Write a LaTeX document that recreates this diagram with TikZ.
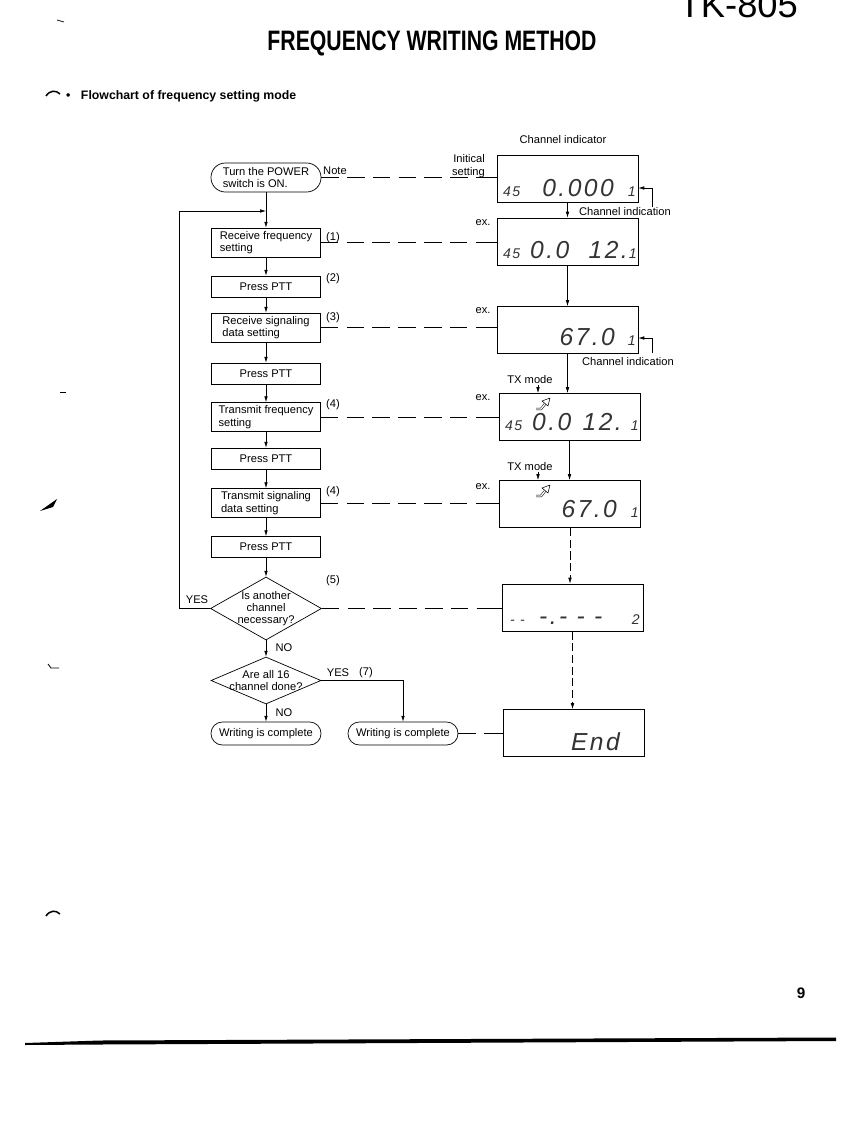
\documentclass[tikz,border=0pt]{standalone}
\usepackage{fontspec}
\usepackage{graphicx}
\setmainfont{Liberation Sans}
\newfontfamily\segfont{Liberation Sans}[LetterSpace=10]
\usetikzlibrary{shapes.geometric,arrows.meta,calc,positioning}

\tikzset{
  stepbox/.style={draw, line width=0.6pt, minimum width=3.27cm, minimum height=0.87cm, inner sep=0pt, align=left},
  pttbox/.style={stepbox, minimum height=0.63cm},
  term/.style={draw, line width=0.6pt, rounded corners=0.34cm, minimum width=3.3cm, minimum height=0.69cm, inner sep=0pt, align=left},
  decision/.style={draw, line width=0.6pt, diamond, inner sep=0pt},
  disp/.style={draw, line width=0.7pt, minimum width=4.23cm, minimum height=1.41cm, inner sep=0pt},
  flow/.style={line width=0.5pt, -{Latex[length=5pt,width=3pt]}},
  note/.style={line width=0.6pt, dash pattern=on 15pt off 7pt},
  seg/.style={font={\segfont\itshape\fontsize{21}{21}\selectfont}, text=black!80, inner sep=0pt},
  segs/.style={font={\segfont\itshape\fontsize{12}{12}\selectfont}, text=black!80, inner sep=0pt},
}

\begin{document}
\begin{tikzpicture}[x=0.03cm, y=-0.03cm, font=\fontsize{9.5}{10.5}\selectfont]
  \useasboundingbox (0,0) rectangle (866,1122);

  % page head
  \node[anchor=base east, font=\fontsize{31}{31}\selectfont] (model) at (802,18) {TK-805};
  \node[font=\bfseries\fontsize{24}{24}\selectfont] (title) at (432,43) {\scalebox{0.755}[1]{FREQUENCY WRITING METHOD}};
  \node[anchor=west, font=\bfseries\fontsize{10.5}{12}\selectfont] (head) at (62,96) {\textbullet\hspace{9pt}Flowchart of frequency setting mode};

  % flowchart
  \node[term, rounded corners=0.43cm, minimum height=0.87cm] (start) at (266,177.5) {Turn the POWER\\switch is ON.};
  \node[stepbox] (rxfreq) at (266,242.5) {Receive frequency\\setting};
  \node[pttbox] (ptt1) at (266,286.5) {Press PTT};
  \node[stepbox] (rxsig) at (266,327.5) {Receive signaling\\data setting};
  \node[pttbox] (ptt2) at (266,373.5) {Press PTT};
  \node[stepbox] (txfreq) at (266,417) {Transmit frequency\\setting};
  \node[pttbox] (ptt3) at (266,458.5) {Press PTT};
  \node[stepbox] (txsig) at (266,503) {Transmit signaling\\data setting};
  \node[pttbox] (ptt4) at (266,547) {Press PTT};
  \node[decision, minimum width=3.33cm, minimum height=1.89cm] (more) at (266,608.5) {};
  \node[align=center] (moretxt) at (more) {Is another\\channel\\necessary?};
  \node[decision, minimum width=3.3cm, minimum height=1.41cm] (all16) at (266,680.5) {};
  \node[align=center] (all16txt) at (all16) {Are all 16\\channel done?};
  \node[term] (endL) at (266,733.5) {Writing is complete};
  \node[term] (endR) at (403,733.5) {Writing is complete};

  \node at (333,238) {(1)};
  \node at (333,279) {(2)};
  \node at (333,318) {(3)};
  \node at (333,405) {(4)};
  \node at (333,492) {(4)};
  \node at (333,581) {(5)};
  \node at (335,171) {Note};
  \node at (197,600) {YES};
  \node at (284,648) {NO};
  \node at (284,713) {NO};
  \node at (338,673) {YES};
  \node at (366,673) {(7)};

  \foreach \a/\b in {start/rxfreq, rxfreq/ptt1, ptt1/rxsig, rxsig/ptt2, ptt2/txfreq,
      txfreq/ptt3, ptt3/txsig, txsig/ptt4, ptt4/more, more/all16, all16/endL}
    \draw[flow] (\a) -- (\b);
  \coordinate (loop) at (179,211);
  \draw[flow] (more.west) -| (loop) -- (loop -| rxfreq.north);
  \draw[flow] (all16.east) -| (endR.north);

  % channel indicator
  \node (chind) at (563,140) {Channel indicator};
  \node[disp] (d1) at (567.5,178.5) {};
  \node[disp] (d2) at (567.5,241.5) {};
  \node[disp] (d3) at (567.5,330) {};
  \node[disp] (d4) at (569.5,417) {};
  \node[disp] (d5) at (570,504) {};
  \node[disp] (d6) at (572.5,607.5) {};
  \node[disp] (d7) at (574,733) {};

  \node[align=right, anchor=east] (init) at (489,166) {Initical\\setting};
  \node (ex1) at (483,223) {ex.};
  \node (ex2) at (483,311) {ex.};
  \node (ex3) at (483,398) {ex.};
  \node (ex4) at (483,487) {ex.};

  % display readings
  \node[segs, anchor=base west] at (503,196) {45};
  \node[seg, anchor=base east] at (614,196) {0.000};
  \node[segs, anchor=base east] at (636,196) {1};
  \node[segs, anchor=base west] at (503,258) {45};
  \node[seg, anchor=base west] at (530,258) {0.0};
  \node[seg, anchor=base east] at (628,258) {12.};
  \node[segs, anchor=base east] at (637,258) {1};
  \node[seg, anchor=base east] at (615,345) {67.0};
  \node[segs, anchor=base east] at (636,345) {1};
  \node[segs, anchor=base west] at (505,430) {45};
  \node[seg, anchor=base west] at (532,430) {0.0};
  \node[seg, anchor=base east] at (622,430) {12.};
  \node[segs, anchor=base east] at (639,430) {1};
  \node[seg, anchor=base east] at (617,517) {67.0};
  \node[segs, anchor=base east] at (639,517) {1};
  \node[segs, anchor=base west] at (510,624) {- -};
  \node[seg, anchor=base west] at (539,624) {-.- - -};
  \node[segs, anchor=base east] at (640,624) {2};
  \node[seg, anchor=base east] at (620,750) {End};

  % TX mode marks
  \node (txm1) at (530,380) {TX mode};
  \node (txm2) at (530,467) {TX mode};
  \coordinate (tx1) at (538,385);
  \coordinate (tx2) at (538,472);
  \draw[flow] (tx1) -- (tx1 |- d4.north);
  \draw[flow] (tx2) -- (tx2 |- d5.north);
  \foreach \y in {0,87} {
    \draw[line width=0.45pt, double distance=1.1pt] (536,409+\y) -- (541,409+\y) -- (545,404+\y);
    \draw[line width=0.45pt, line join=round] (542,401+\y) -- (550,398+\y) -- (548,406+\y) -- cycle;
  }

  % channel indication
  \coordinate (ci1) at (652,207);
  \coordinate (ci2) at (652,353);
  \draw[flow] (ci1) |- ($(d1.east)+(0,9.5)$);
  \draw[flow] (ci2) |- ($(d3.east)+(0,8)$);
  \node[anchor=west] (cind1) at (575,212) {Channel indication};
  \node[anchor=west] (cind2) at (578,362) {Channel indication};

  % display sequence
  \draw[flow] (d1.south) -- (d1.south |- d2.north);
  \draw[flow] (d2.south) -- (d2.south |- d3.north);
  \draw[flow] (d3.south) -- (d3.south |- d4.north);
  \draw[flow] (d4.south) -- (d4.south |- d5.north);
  \draw[flow, dash pattern=on 7pt off 3pt] (d5.south) -- (d5.south |- d6.north);
  \draw[flow, dash pattern=on 7pt off 3pt] (d6.south) -- (d6.south |- d7.north);

  % dashed links to the displays
  \foreach \a/\b in {start/d1, rxfreq/d2, rxsig/d3, txfreq/d4, txsig/d5, more/d6, endR/d7} {
    \draw[note] (\a.east) -- ($(\a.east -| \b.west)+(-12,0)$);
    \draw[line width=0.6pt] ($(\a.east -| \b.west)+(-12,0)$) -- (\a.east -| \b.west);
  }

  % page foot
  \node[font=\bfseries\fontsize{13}{13}\selectfont] (page) at (801,993) {9};
  \fill (25,1043) -- (100,1040.5) -- (836,1037.5) -- (836,1041) -- (100,1044.5) -- (25,1045) -- cycle;

  % margin marks
  \draw[line width=0.6pt] (57,20) -- (64,22);
  \draw[line width=1.3pt] (46,96) .. controls (50,90) and (56,90) .. (60,94);
  \draw[line width=0.6pt] (60,392) -- (66,392);
  \fill (40,511) -- (57,499) -- (53,507) -- cycle;
  \draw[line width=0.7pt] (48,664) -- (51,668) -- (59,668);
  \draw[line width=1.3pt] (46,916) .. controls (50,910) and (56,910) .. (60,914);
\end{tikzpicture}
\end{document}
